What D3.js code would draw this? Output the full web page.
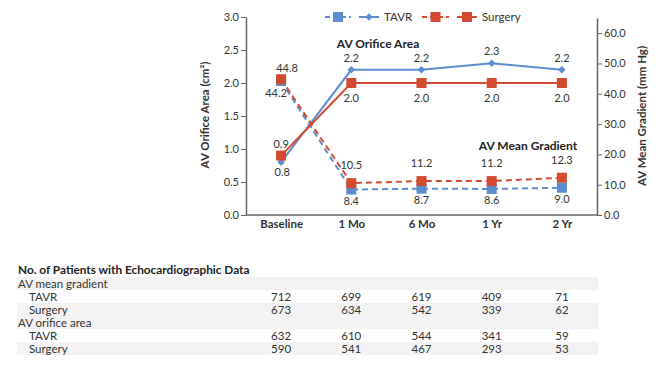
<!DOCTYPE html>
<html><head><meta charset="utf-8">
<script src="https://cdn.jsdelivr.net/npm/d3@7"></script>
<style>body{margin:0;background:#fff;}svg{font-family:Lato,"Open Sans",sans-serif;}</style>
</head><body><svg id="c" width="660" height="369"></svg>
<script>
const categories = ["Baseline","1 Mo","6 Mo","1 Yr","2 Yr"];
const tavrArea = [0.8,2.2,2.2,2.3,2.2];
const surgeryArea = [0.9,2.0,2.0,2.0,2.0];
const tavrGradient = [44.2,8.4,8.7,8.6,9.0];
const surgeryGradient = [44.8,10.5,11.2,11.2,12.3];
const leftTicks = [0,0.5,1.0,1.5,2.0,2.5,3.0];
const rightTicks = [0,10,20,30,40,50,60];
const tableRows = [
  {label:"AV mean gradient", group:true, values:null},
  {label:"TAVR", group:false, values:[712,699,619,409,71]},
  {label:"Surgery", group:false, values:[673,634,542,339,62]},
  {label:"AV orifice area", group:true, values:null},
  {label:"TAVR", group:false, values:[632,610,544,341,59]},
  {label:"Surgery", group:false, values:[590,541,467,293,53]}
];

const BLUE="#5b8dd0", RED="#d44a30", AX="#666", TXT="#333";
const svg=d3.select("#c");
const L=246,R=597,T=17,B=215;
const x=d3.scalePoint().domain(categories).range([L,R]).padding(0.5);
const yL=d3.scaleLinear().domain([0,3]).range([B,T]);
const yR=d3.scaleLinear().domain([0,65]).range([B,T+1]);

// axes
const gl=svg.append("g").attr("transform",`translate(${L},0)`)
  .call(d3.axisLeft(yL).tickValues(leftTicks).tickFormat(d3.format(".1f")).tickSize(5).tickSizeOuter(0));
const gr=svg.append("g").attr("transform",`translate(${R},0)`)
  .call(d3.axisRight(yR).tickValues(rightTicks).tickFormat(d3.format(".1f")).tickSize(5).tickSizeOuter(0));
const gb=svg.append("g").attr("transform",`translate(0,${B})`)
  .call(d3.axisBottom(x).tickSize(0).tickSizeOuter(0));
gb.select(".domain").attr("d",`M${L},0H${R}`);
[gl,gr,gb].forEach(g=>{
  g.select(".domain").attr("stroke",AX).attr("stroke-width",1.5);
  g.selectAll(".tick line").attr("stroke",AX);
  g.selectAll("text").attr("fill",TXT).attr("font-family","Lato,sans-serif").attr("font-size",11);
});
gl.selectAll(".tick text").attr("x",-7);
gr.selectAll(".tick text").attr("x",7);
gb.selectAll("text").attr("font-weight","bold").attr("dy","0.71em").attr("y",5).attr("font-size",11.5);

svg.append("text").attr("transform","translate(209,115) rotate(-90)").attr("text-anchor","middle")
  .attr("font-weight","bold").attr("font-size",11.5).attr("fill",TXT)
  .text("AV Orifice Area (cm²)");
svg.append("text").attr("transform","translate(646,116) rotate(-90)").attr("text-anchor","middle")
  .attr("font-weight","bold").attr("font-size",11.5).attr("fill",TXT)
  .text("AV Mean Gradient (mm Hg)");

svg.append("text").attr("x",378).attr("y",48).attr("text-anchor","middle").attr("font-weight","bold")
  .attr("font-size",12).attr("fill","#222").text("AV Orifice Area");
svg.append("text").attr("x",528).attr("y",150).attr("text-anchor","middle").attr("font-weight","bold")
  .attr("font-size",12).attr("fill","#222").text("AV Mean Gradient");

const line=(ys,scale)=>d3.line().x((d,i)=>x(categories[i])).y(d=>scale(d))(ys);
const sq=d3.symbol().type(d3.symbolSquare).size(100);
const dm=d3.symbol().type(d3.symbolSquare).size(28);

function series(vals,scale,color,dashed,marker,rot){
  svg.append("path").attr("d",line(vals,scale)).attr("fill","none").attr("stroke",color)
    .attr("stroke-width",2).attr("stroke-dasharray",dashed?"6,4":null);
  svg.append("g").selectAll("path").data(vals).join("path")
    .attr("transform",(d,i)=>`translate(${x(categories[i])},${scale(d)}) rotate(${rot||0})`)
    .attr("d",marker()).attr("fill",color);
}
series(tavrGradient,yR,BLUE,true,sq);
series(tavrArea,yL,BLUE,false,dm,45);
series(surgeryGradient,yR,RED,true,sq);
series(surgeryArea,yL,RED,false,sq);

// labels: the higher of a pair goes above, the lower below
function labels(vals,other,scale,off){
  svg.append("g").selectAll("text").data(vals).join("text")
    .attr("x",(d,i)=>{
      const hi=d>=other[i];
      return x(categories[i])+(i===0?(hi?off.bx[0]:off.bx[1]):0);
    })
    .attr("y",(d,i)=>{
      const hi=d>=other[i];
      const o=i===0?(hi?off.b[0]:off.b[1]):(hi?off.n[0]:off.n[1]);
      return scale(d)+o;
    })
    .attr("text-anchor","middle").attr("font-size",11).attr("fill",TXT)
    .text(d=>d3.format(".1f")(d));
}
const areaOff={n:[-8,19],b:[-8,14],bx:[0,1]};
const gradOff={n:[-14,15.5],b:[-7,16],bx:[6,-5]};
labels(tavrArea,surgeryArea,yL,areaOff);
labels(surgeryArea,tavrArea,yL,areaOff);
labels(surgeryGradient,tavrGradient,yR,gradOff);
labels(tavrGradient,surgeryGradient,yR,gradOff);

// legend
const lg=svg.append("g");
function legItem(x0,x1,color,dashed,marker,label,rot){
  lg.append("line").attr("x1",x0).attr("x2",x1).attr("y1",17).attr("y2",17).attr("stroke",color)
    .attr("stroke-width",2).attr("stroke-dasharray",dashed?"5,3":null);
  lg.append("path").attr("transform",`translate(${(x0+x1)/2},17) rotate(${rot||0})`).attr("d",marker()).attr("fill",color);
  if(label) lg.append("text").attr("x",x1+5).attr("y",21).attr("font-size",11.5).attr("fill",TXT).text(label);
}
legItem(325,351,BLUE,true,sq,null);
legItem(359,379,BLUE,false,dm,"TAVR",45);
legItem(422,449,RED,true,sq,null);
legItem(457,477,RED,false,sq,"Surgery");

// table
const tb=svg.append("g");
tb.append("text").attr("x",18).attr("y",274).attr("font-size",11.8).attr("font-weight","bold")
  .attr("fill","#222").text("No. of Patients with Echocardiographic Data");
tableRows.forEach((r,k)=>{
  const y0=277+k*13;
  if(k%3!==1) tb.append("rect").attr("x",17).attr("y",y0).attr("width",581).attr("height",13).attr("fill","#f3f3f3");
  tb.append("text").attr("x",r.group?18:29).attr("y",y0+10.5).attr("font-size",11.5).attr("fill",TXT).text(r.label);
  if(r.values) tb.append("g").selectAll("text").data(r.values).join("text")
    .attr("x",(d,i)=>x(categories[i])).attr("y",y0+10.5).attr("text-anchor","middle")
    .attr("font-size",11.5).attr("fill",TXT).text(d=>d);
});
</script></body></html>
